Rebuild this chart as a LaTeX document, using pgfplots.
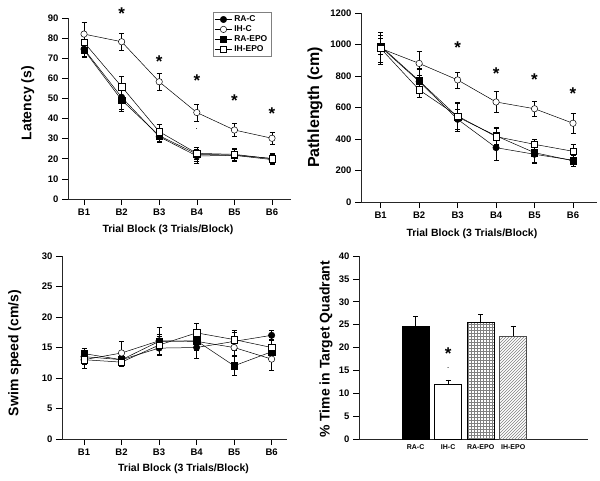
\documentclass[border=0pt]{standalone}
\usepackage{fontspec}
\setmainfont{Liberation Sans}
\usepackage{pgfplots}
\pgfplotsset{compat=1.18}
\usetikzlibrary{patterns}

\tikzset{sigstar/.style={font=\bfseries\fontsize{17}{17}\selectfont, inner sep=0pt}}
\pgfplotsset{
  mystyle/.style={
    scale only axis,
    anchor=south west,
    axis x line*=bottom, axis y line*=left,
    axis line style={-, line width=0.8pt, black!85},
    tick align=outside,
    major tick length=6pt,
    tick style={black, line width=0.6pt},
    /pgf/number format/assume math mode=true,
    /pgf/number format/1000 sep={},
    tick label style={font=\bfseries\fontsize{9.5}{10}\selectfont},
    clip=false,
  },
  ser/.style={black, line width=0.5pt, mark size=3.2pt,
    error bars/y dir=both, error bars/y explicit,
    error bars/error bar style={line width=0.5pt},
    error bars/error mark options={rotate=90, mark size=2.5pt, line width=0.5pt}},
  barerr/.style={error bars/y dir=plus, error bars/y explicit,
    error bars/error bar style={line width=0.6pt, black},
    error bars/error mark options={rotate=90, mark size=2.5pt, line width=0.6pt, black}},
}

\pgfplotstableread{
x y e
1 74.5 3.5
2 50.6 6
3 31.0 2.8
4 21.4 3.5
5 21.7 3
6 19.6 2.2
}\latRAC
\pgfplotstableread{
x y e
1 82.0 5.7
2 78.2 4
3 58.3 4
4 43.0 4.2
5 34.3 3.2
6 30.2 3.2
}\latIHC
\pgfplotstableread{
x y e
1 74.1 3.5
2 49.2 5.5
3 31.5 3
4 22.3 3.5
5 21.8 3
6 20.2 2.5
}\latRAE
\pgfplotstableread{
x y e
1 77.9 4.5
2 55.9 5
3 33.5 3.5
4 22.7 3
5 22.2 2.8
6 20.0 2.2
}\latIHE

\pgfplotstableread{
x y e
1 985 95
2 765 75
3 525 65
4 345 78
5 303 55
6 265 35
}\pathRAC
\pgfplotstableread{
x y e
1 975 85
2 880 75
3 775 50
4 635 65
5 592 50
6 500 62
}\pathIHC
\pgfplotstableread{
x y e
1 990 50
2 770 80
3 540 90
4 420 55
5 313 60
6 262 35
}\pathRAE
\pgfplotstableread{
x y e
1 975 100
2 712 45
3 546 85
4 415 55
5 366 35
6 322 45
}\pathIHE

\pgfplotstableread{
x y e
1 13.5 0.8
2 13.0 0.8
3 14.9 1.2
4 15.0 1.8
5 16.0 1.5
6 17.0 0.8
}\swRAC
\pgfplotstableread{
x y e
1 13.0 1.4
2 14.1 1.9
3 16.1 2.3
4 16.0 1.5
5 15.0 1.3
6 13.1 1.9
}\swIHC
\pgfplotstableread{
x y e
1 14.0 0.8
2 13.0 1.0
3 16.0 1.2
4 16.1 1.2
5 12.0 1.5
6 14.3 1.0
}\swRAE
\pgfplotstableread{
x y e
1 13.0 0.8
2 12.6 0.7
3 15.4 1.5
4 17.4 1.5
5 16.3 1.6
6 15.0 1.3
}\swIHE

\begin{document}
\begin{tikzpicture}
\path[use as bounding box] (0,0) rectangle (600pt,480pt);

% Panel 1: Latency
\begin{axis}[mystyle,
  at={(68pt,281pt)}, width=223pt, height=181pt,
  xmin=0.574, xmax=6.505, ymin=0, ymax=90,
  xtick={1,...,6}, xticklabels={B1,B2,B3,B4,B5,B6},
  ytick={0,10,...,90},
  ylabel={Latency (s)},
  ylabel style={at={(axis description cs:-0.18,0.53)}, anchor=center, font=\bfseries\fontsize{14}{16}\selectfont},
  xlabel={Trial Block (3 Trials/Block)},
  xlabel style={at={(axis description cs:0.448,-0.171)}, anchor=center, font=\bfseries\fontsize{10.5}{12}\selectfont},
  legend style={at={(0.65,1.033)}, anchor=north west, draw=gray, line width=0.5pt,
    font=\bfseries\fontsize{8.5}{10}\selectfont, row sep=-1.5pt, inner sep=1.5pt},
  legend cell align=left,
]
\addplot[ser, mark=*, mark options={fill=black, solid}] table[x=x,y=y,y error=e]{\latRAC};
\addlegendentry{RA-C}
\addplot[ser, mark=*, mark options={fill=white, solid}] table[x=x,y=y,y error=e]{\latIHC};
\addlegendentry{IH-C}
\addplot[ser, mark=square*, mark options={fill=black, solid}] table[x=x,y=y,y error=e]{\latRAE};
\addlegendentry{RA-EPO}
\addplot[ser, mark=square*, mark options={fill=white, solid}] table[x=x,y=y,y error=e]{\latIHE};
\addlegendentry{IH-EPO}
\node[sigstar] at (axis cs:2,92) {*};
\node[sigstar] at (axis cs:3,68.3) {*};
\node[sigstar] at (axis cs:4,58.7) {*};
\node[sigstar] at (axis cs:5,48.9) {*};
\node[sigstar] at (axis cs:6,42.3) {*};
\node[font=\bfseries\fontsize{6}{6}\selectfont] at (axis cs:4,35) {.};
\end{axis}

% Panel 2: Pathlength
\begin{axis}[mystyle,
  at={(361pt,278pt)}, width=236pt, height=189pt,
  xmin=0.488, xmax=6.624, ymin=0, ymax=1200,
  xtick={1,...,6}, xticklabels={B1,B2,B3,B4,B5,B6},
  ytick={0,200,...,1200},
  ylabel={Pathlength (cm)},
  ylabel style={at={(axis description cs:-0.195,0.5)}, anchor=center, font=\bfseries\fontsize{16}{18}\selectfont},
  xlabel={Trial Block (3 Trials/Block)},
  xlabel style={at={(axis description cs:0.47,-0.169)}, anchor=center, font=\bfseries\fontsize{10.5}{12}\selectfont},
]
\addplot[ser, mark=*, mark options={fill=black, solid}] table[x=x,y=y,y error=e]{\pathRAC};
\addplot[ser, mark=*, mark options={fill=white, solid}] table[x=x,y=y,y error=e]{\pathIHC};
\addplot[ser, mark=square*, mark options={fill=black, solid}] table[x=x,y=y,y error=e]{\pathRAE};
\addplot[ser, mark=square*, mark options={fill=white, solid}] table[x=x,y=y,y error=e]{\pathIHE};
\node[sigstar] at (axis cs:3,977) {*};
\node[sigstar] at (axis cs:4,814) {*};
\node[sigstar] at (axis cs:5,776) {*};
\node[sigstar] at (axis cs:6,685) {*};
\end{axis}

% Panel 3: Swim speed
\begin{axis}[mystyle,
  at={(62pt,41pt)}, width=225pt, height=183pt,
  xmin=0.413, xmax=6.41, ymin=0, ymax=30,
  xtick={1,...,6}, xticklabels={B1,B2,B3,B4,B5,B6},
  ytick={0,5,...,30},
  ylabel={Swim speed (cm/s)},
  ylabel style={at={(axis description cs:-0.21,0.47)}, anchor=center, font=\bfseries\fontsize{14}{16}\selectfont},
  xlabel={Trial Block (3 Trials/Block)},
  xlabel style={at={(axis description cs:0.54,-0.164)}, anchor=center, font=\bfseries\fontsize{10.5}{12}\selectfont},
]
\addplot[ser, mark=*, mark options={fill=black, solid}] table[x=x,y=y,y error=e]{\swRAC};
\addplot[ser, mark=*, mark options={fill=white, solid}] table[x=x,y=y,y error=e]{\swIHC};
\addplot[ser, mark=square*, mark options={fill=black, solid}] table[x=x,y=y,y error=e]{\swRAE};
\addplot[ser, mark=square*, mark options={fill=white, solid}] table[x=x,y=y,y error=e]{\swIHE};
\end{axis}

% Panel 4: % time in target quadrant
\begin{axis}[mystyle,
  at={(359pt,41pt)}, width=229pt, height=183pt,
  xmin=-1.74, xmax=5.3, ymin=0, ymax=40,
  xtick={0,1,2,3}, xticklabels={RA-C,IH-C,RA-EPO,IH-EPO},
  x tick style={draw=none},
  x tick label style={font=\bfseries\fontsize{7}{8}\selectfont, yshift=4pt},
  ytick={0,5,...,40},
  ylabel={\% Time in Target Quadrant},
  ylabel style={at={(axis description cs:-0.144,0.49)}, anchor=center, font=\bfseries\fontsize{14}{16}\selectfont},
]
\addplot[ybar, bar shift=0pt, bar width=0.83, fill=black, draw=black, line width=0.6pt, barerr]
  coordinates {(0,24.7) +- (0,2.1)};
\addplot[ybar, bar shift=0pt, bar width=0.83, fill=white, draw=black, line width=0.6pt, barerr]
  coordinates {(1,12.0) +- (0,0.9)};
\addplot[ybar, bar shift=0pt, bar width=0.83, pattern=grid, pattern color=gray, draw=black, line width=0.6pt, barerr]
  coordinates {(2,25.4) +- (0,1.9)};
\addplot[ybar, bar shift=0pt, bar width=0.83, pattern=north east lines, pattern color=gray, draw=black!70, line width=0.6pt, barerr]
  coordinates {(3,22.5) +- (0,2.2)};
\node[sigstar] at (axis cs:1,18.7) {*};
\node[font=\bfseries\fontsize{6}{6}\selectfont] at (axis cs:1,15.4) {.};
\end{axis}
\end{tikzpicture}
\end{document}
